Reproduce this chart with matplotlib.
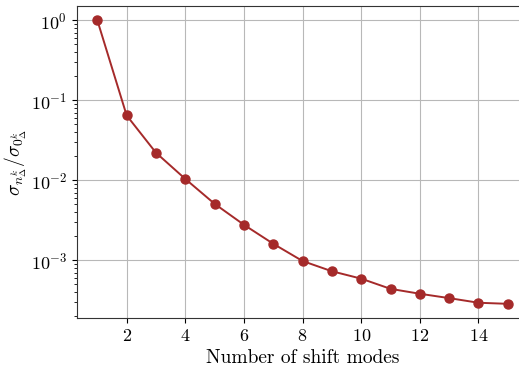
import matplotlib
matplotlib.use("Agg")
import matplotlib.pyplot as plt

plt.rcParams['font.family'] = 'serif'
plt.rcParams['font.serif'] = ['cmr10']
plt.rcParams['mathtext.fontset'] = 'cm'
plt.rcParams['axes.formatter.use_mathtext'] = True

# relative singular values vs. number of shift modes
modes = list(range(1, 16))
sigma_ratio = [1.0, 0.0646, 0.0221, 0.0104, 0.00508, 0.00278, 0.00161,
               0.00098, 0.00073, 0.00059, 0.00044, 0.000382, 0.000337,
               0.000295, 0.000286]

fig = plt.figure(figsize=(5.19, 3.67), dpi=100)
ax = fig.add_axes([0.148, 0.1335, 0.870, 0.850])

ax.semilogy(modes, sigma_ratio, color='#a52a2a', marker='o', ms=6.5, lw=1.4)
ax.grid(True, which='major', color='#b8b8b8', lw=0.8)
ax.set_xticks([2, 4, 6, 8, 10, 12, 14])
ax.tick_params(labelsize=13)
for s in ax.spines.values():
    s.set_color('#333333')

ax.set_xlabel('Number of shift modes', fontsize=14)
ax.set_ylabel(r'$\sigma_{n^k_\Delta}/\sigma_{0^k_\Delta}$', fontsize=14,
              labelpad=1)

fig.savefig('out.png', dpi=100)
